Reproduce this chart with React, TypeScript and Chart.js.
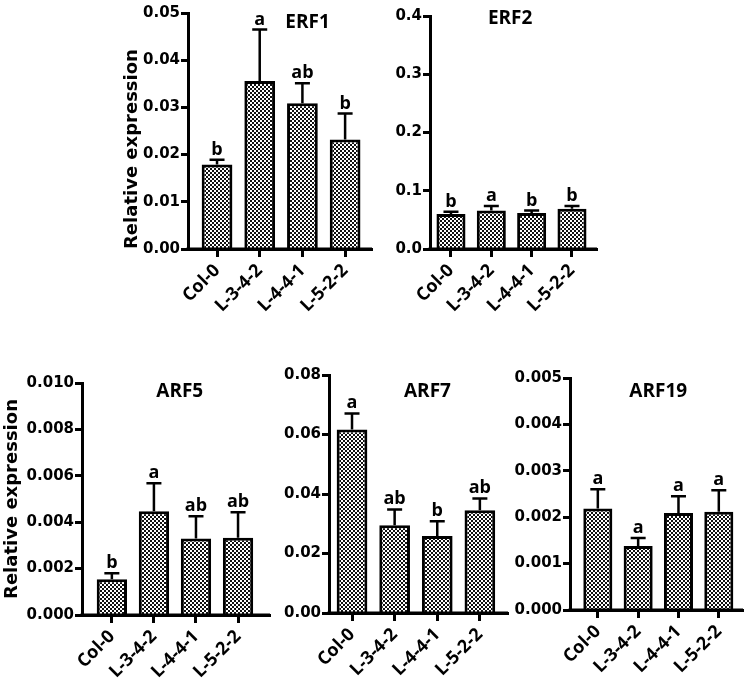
import React, { useEffect, useRef } from "react";
import { Chart, registerables } from "chart.js";
Chart.register(...registerables);

// ---------- data ----------
const genotypes = ["Col-0", "L-3-4-2", "L-4-4-1", "L-5-2-2"];

const erf1Mean = [0.0179, 0.0356, 0.0309, 0.0232];
const erf1Err = [0.001, 0.0109, 0.0042, 0.0055];
const erf1Letters = ["b", "a", "ab", "b"];
const erf1Ticks = [0, 0.01, 0.02, 0.03, 0.04, 0.05];

const erf2Mean = [0.06, 0.066, 0.062, 0.069];
const erf2Err = [0.004, 0.008, 0.004, 0.005];
const erf2Letters = ["b", "a", "b", "b"];
const erf2Ticks = [0, 0.1, 0.2, 0.3, 0.4];

const arf5Mean = [0.00154, 0.00447, 0.0033, 0.00333];
const arf5Err = [0.00026, 0.00121, 0.00096, 0.0011];
const arf5Letters = ["b", "a", "ab", "ab"];
const arf5Ticks = [0, 0.002, 0.004, 0.006, 0.008, 0.01];

const arf7Mean = [0.0617, 0.0295, 0.0259, 0.0345];
const arf7Err = [0.0054, 0.0053, 0.0049, 0.004];
const arf7Letters = ["a", "ab", "b", "ab"];
const arf7Ticks = [0, 0.02, 0.04, 0.06, 0.08];

const arf19Mean = [0.00219, 0.00138, 0.00209, 0.00212];
const arf19Err = [0.00041, 0.00017, 0.00036, 0.00046];
const arf19Letters = ["a", "a", "a", "a"];
const arf19Ticks = [0, 0.001, 0.002, 0.003, 0.004, 0.005];

const yAxisTitle = "Relative expression";

// ---------- layout ----------
type Box = { left: number; top: number; width: number; height: number };
type Area = { left: number; right: number; top: number; bottom: number };
type Panel = {
  name: string;
  mean: number[];
  err: number[];
  letters: string[];
  ticks: number[];
  decimals: number;
  yTitle: string;
  yTitleAlign: "start" | "center" | "end";
  box: Box;
  area: Area;
  xMin: number;
  xMax: number;
  titleFx: number;
  titleY: number;
};

const panels: Panel[] = [
  {
    name: "ERF1", mean: erf1Mean, err: erf1Err, letters: erf1Letters, ticks: erf1Ticks, decimals: 2,
    yTitle: yAxisTitle, yTitleAlign: "start",
    box: { left: 122, top: 0, width: 259, height: 340 },
    area: { left: 188, right: 372, top: 13, bottom: 249 },
    xMin: -0.68, xMax: 3.63, titleFx: 0.65, titleY: 23,
  },
  {
    name: "ERF2", mean: erf2Mean, err: erf2Err, letters: erf2Letters, ticks: erf2Ticks, decimals: 1,
    yTitle: "", yTitleAlign: "center",
    box: { left: 380, top: 0, width: 230, height: 340 },
    area: { left: 430, right: 597, top: 16, bottom: 249 },
    xMin: -0.52, xMax: 3.62, titleFx: 0.48, titleY: 19,
  },
  {
    name: "ARF5", mean: arf5Mean, err: arf5Err, letters: arf5Letters, ticks: arf5Ticks, decimals: 3,
    yTitle: yAxisTitle, yTitleAlign: "center",
    box: { left: 2, top: 340, width: 274, height: 350 },
    area: { left: 82, right: 270, top: 383, bottom: 615 },
    xMin: -0.71, xMax: 3.76, titleFx: 0.52, titleY: 392,
  },
  {
    name: "ARF7", mean: arf7Mean, err: arf7Err, letters: arf7Letters, ticks: arf7Ticks, decimals: 2,
    yTitle: "", yTitleAlign: "center",
    box: { left: 275, top: 340, width: 240, height: 350 },
    area: { left: 329, right: 508, top: 375, bottom: 613 },
    xMin: -0.54, xMax: 3.66, titleFx: 0.55, titleY: 392,
  },
  {
    name: "ARF19", mean: arf19Mean, err: arf19Err, letters: arf19Letters, ticks: arf19Ticks, decimals: 3,
    yTitle: "", yTitleAlign: "center",
    box: { left: 515, top: 340, width: 235, height: 350 },
    area: { left: 570, right: 743, top: 378, bottom: 610 },
    xMin: -0.69, xMax: 3.6, titleFx: 0.51, titleY: 392,
  },
];

const LABEL_FONT = "'Open Sans', 'DejaVu Sans', sans-serif";
const TICK_FONT = "'DejaVu Sans', 'Liberation Sans', sans-serif";

function makePattern(): CanvasPattern | string {
  const c = document.createElement("canvas");
  c.width = 4;
  c.height = 4;
  const g = c.getContext("2d");
  if (!g) return "#777";
  g.fillStyle = "#ffffff";
  g.fillRect(0, 0, 4, 4);
  g.fillStyle = "#111111";
  g.fillRect(0, 0, 2, 2);
  g.fillRect(2, 2, 2, 2);
  const ctx2 = document.createElement("canvas").getContext("2d");
  return (ctx2 && ctx2.createPattern(c, "repeat")) || "#777";
}

function overlayPlugin(p: Panel) {
  return {
    id: "overlay-" + p.name,
    afterDatasetsDraw(chart: any) {
      const { ctx, chartArea } = chart;
      const xs = chart.scales.x;
      const ys = chart.scales.y;
      ctx.save();
      ctx.strokeStyle = "#000";
      ctx.fillStyle = "#000";
      // x axis line redrawn on top of bars
      ctx.lineWidth = 3;
      ctx.beginPath();
      ctx.moveTo(chartArea.left - 1.5, chartArea.bottom);
      ctx.lineTo(chartArea.right, chartArea.bottom);
      ctx.stroke();
      // error bars and letters
      p.mean.forEach((m, i) => {
        const x = xs.getPixelForValue(i);
        const y0 = ys.getPixelForValue(m);
        const y1 = ys.getPixelForValue(m + p.err[i]);
        ctx.lineWidth = 2.5;
        ctx.beginPath();
        ctx.moveTo(x, y0);
        ctx.lineTo(x, y1);
        ctx.moveTo(x - 7.5, y1);
        ctx.lineTo(x + 7.5, y1);
        ctx.stroke();
        ctx.font = `bold 18px ${LABEL_FONT}`;
        ctx.textAlign = "center";
        ctx.textBaseline = "alphabetic";
        ctx.fillText(p.letters[i], x, y1 - 5);
      });
      // panel title
      ctx.font = `bold 19px ${LABEL_FONT}`;
      ctx.textAlign = "center";
      ctx.textBaseline = "middle";
      ctx.fillText(
        p.name,
        chartArea.left + p.titleFx * (chartArea.right - chartArea.left),
        p.titleY - p.box.top
      );
      ctx.restore();
    },
  };
}

function PanelChart({ p }: { p: Panel }) {
  const ref = useRef<HTMLCanvasElement>(null);
  useEffect(() => {
    const canvas = ref.current;
    if (!canvas) return;
    const pattern = makePattern();
    const axisGrid = {
      display: true,
      drawOnChartArea: false,
      drawTicks: true,
      tickWidth: 3,
      tickColor: "#000",
      color: "#000",
      offset: false,
    };
    const chart = new Chart(canvas, {
      type: "bar",
      data: {
        datasets: [
          {
            data: p.mean.map((v, i) => ({ x: i, y: v })),
            backgroundColor: pattern as any,
            borderColor: "#000",
            borderWidth: 3,
            borderSkipped: "start",
            barPercentage: 0.72,
            categoryPercentage: 1,
          },
        ],
      },
      options: {
        responsive: false,
        animation: false,
        devicePixelRatio: 1,
        layout: {
          padding: {
            top: p.area.top - p.box.top,
            right: p.box.left + p.box.width - p.area.right,
            left: 0,
            bottom: 0,
          },
        },
        plugins: {
          legend: { display: false },
          tooltip: { enabled: false },
          title: { display: false },
        },
        scales: {
          x: {
            type: "linear",
            min: p.xMin,
            max: p.xMax,
            offset: false,
            afterBuildTicks: (s: any) => {
              s.ticks = genotypes.map((_, i) => ({ value: i }));
            },
            afterFit: (s: any) => {
              s.height = p.box.top + p.box.height - p.area.bottom;
            },
            grid: { ...axisGrid, tickLength: 8 },
            border: { display: true, width: 3, color: "#000" },
            ticks: {
              autoSkip: false,
              maxRotation: 45,
              minRotation: 45,
              padding: 3,
              color: "#000",
              font: { family: LABEL_FONT, weight: "bold", size: 18 },
              callback: (v: any) => genotypes[Math.round(Number(v))] ?? "",
            },
          },
          y: {
            min: 0,
            max: p.ticks[p.ticks.length - 1],
            afterBuildTicks: (s: any) => {
              s.ticks = p.ticks.map((v) => ({ value: v }));
            },
            afterFit: (s: any) => {
              s.width = p.area.left - p.box.left;
            },
            grid: { ...axisGrid, tickLength: 7 },
            border: { display: true, width: 3, color: "#000" },
            ticks: {
              padding: 1,
              color: "#000",
              font: { family: TICK_FONT, weight: "bold", size: 15 },
              callback: (v: any) => Number(v).toFixed(p.decimals),
            },
            title: {
              display: !!p.yTitle,
              text: p.yTitle,
              align: p.yTitleAlign,
              padding: 0,
              color: "#000",
              font: { family: TICK_FONT, weight: "bold", size: 18 },
            },
          },
        },
      } as any,
      plugins: [overlayPlugin(p)],
    });
    return () => chart.destroy();
  }, [p]);
  return (
    <canvas
      ref={ref}
      width={p.box.width}
      height={p.box.height}
      style={{
        position: "absolute",
        left: p.box.left,
        top: p.box.top,
        width: p.box.width,
        height: p.box.height,
      }}
    />
  );
}

export default function App() {
  return (
    <div
      style={{
        position: "absolute",
        left: 0,
        top: 0,
        width: 750,
        height: 690,
        background: "#fff",
        overflow: "hidden",
      }}
    >
      {panels.map((p) => (
        <PanelChart key={p.name} p={p} />
      ))}
    </div>
  );
}
